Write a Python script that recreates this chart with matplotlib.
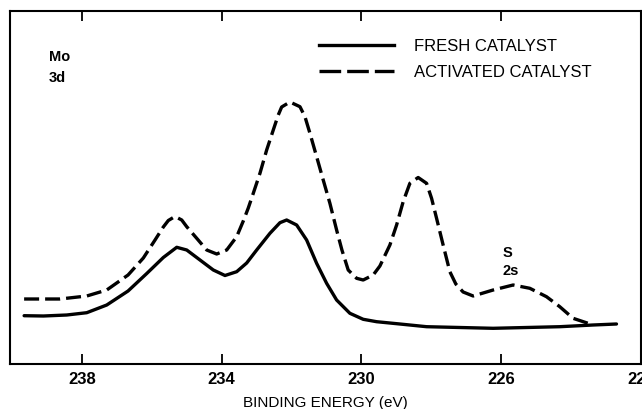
import matplotlib.pyplot as plt
from matplotlib.lines import Line2D

# Mo 3d XPS spectra (binding energy in eV, intensity in arb. units)
fresh_be = [239.656, 239.104, 238.435, 237.863, 237.291, 236.681, 236.146, 235.672,
            235.288, 235.002, 234.622, 234.241, 233.907, 233.572, 233.286, 233.000,
            232.620, 232.334, 232.142, 231.856, 231.570, 231.284, 230.998, 230.712,
            230.332, 229.951, 229.568, 228.902, 228.137, 226.232, 224.325, 223.372,
            222.702]
fresh_int = [48.3, 48.0, 49.0, 51.3, 59.0, 73.0, 90.5, 106.5,
             116.7, 114.0, 104.0, 94.0, 88.5, 92.3, 101.0, 114.0,
             130.7, 141.3, 144.0, 139.0, 124.0, 100.7, 80.7, 64.0,
             50.7, 44.7, 42.3, 40.0, 37.3, 35.7, 37.3, 39.0,
             40.0]

activated_be = [239.656, 238.627, 237.863, 237.291, 236.681, 236.244, 235.909, 235.672,
                235.529, 235.337, 235.145, 235.002, 234.716, 234.430, 234.144, 233.858,
                233.572, 233.383, 233.240, 233.097, 232.906, 232.714, 232.525, 232.382,
                232.285, 232.048, 231.761, 231.618, 231.475, 231.284, 231.095, 230.904,
                230.712, 230.560, 230.380, 230.140, 229.951, 229.665, 229.473, 229.187,
                228.995, 228.807, 228.615, 228.378, 228.137, 227.994, 227.851, 227.663,
                227.471, 227.300, 227.091, 226.804, 226.232, 225.660, 225.182, 224.705,
                224.325, 223.944, 223.515]
activated_int = [65.0, 65.0, 68.0, 74.0, 89.0, 106.0, 124.0, 137.0,
                 143.5, 147.5, 144.0, 137.3, 125.7, 114.0, 110.0, 114.0,
                 127.3, 143.0, 156.0, 170.7, 190.7, 214.0, 234.0, 249.0,
                 257.0, 262.0, 257.3, 247.3, 230.7, 207.3, 184.0, 160.7,
                 134.0, 114.0, 94.0, 85.7, 84.0, 89.0, 98.0, 119.0,
                 139.0, 162.3, 180.7, 186.5, 180.7, 165.7, 145.7, 119.0,
                 92.3, 80.0, 72.0, 68.0, 74.0, 79.0, 75.7, 67.3,
                 57.3, 45.7, 40.7]

series_labels = ['FRESH CATALYST', 'ACTIVATED CATALYST']
xticks = [238, 234, 230, 226, 222]
xtick_labels = ['238', '234', '230', '226', '222']

font = 'Liberation Sans'

fig = plt.figure(figsize=(6.42, 4.09), dpi=100)
ax = fig.add_axes([10 / 642, 45 / 409, 631 / 642, 353 / 409])

ax.plot(fresh_be, fresh_int, color='black', linewidth=2.4,
        solid_capstyle='round', solid_joinstyle='round')
ax.plot(activated_be, activated_int, color='black', linewidth=2.4,
        dashes=(4.5, 1.8), dash_joinstyle='round')

ax.set_xlim(240.06, 222.0)
ax.set_ylim(0, 353)

ax.set_xticks(xticks)
ax.set_xticklabels(xtick_labels, fontfamily=font, fontweight='bold', fontsize=12)
ax.set_yticks([])
ax.tick_params(axis='x', direction='in', length=7, width=1.3, top=True, pad=6)
for s in ax.spines.values():
    s.set_linewidth(1.5)

ax.set_xlabel('BINDING ENERGY (eV)', fontfamily=font, fontsize=11, labelpad=6)

# peak labels
ax.text(238.94, 307, 'Mo', fontfamily=font, fontweight='bold', fontsize=10.5,
        ha='left', va='center')
ax.text(238.94, 285.7, '3d', fontfamily=font, fontweight='bold', fontsize=10.5,
        ha='left', va='center')
ax.text(225.95, 111, 'S', fontfamily=font, fontweight='bold', fontsize=10.5,
        ha='left', va='center')
ax.text(225.97, 93, '2s', fontfamily=font, fontweight='bold', fontsize=10.5,
        ha='left', va='center')

handles = [Line2D([], [], color='black', linewidth=2.4),
           Line2D([], [], color='black', linewidth=2.4, dashes=(6.5, 1.8))]
ax.legend(handles, series_labels, loc='upper left', bbox_to_anchor=(0.4897, 0.921),
          frameon=False, borderpad=0, borderaxespad=0, handlelength=4.5,
          handletextpad=1.2, labelspacing=0.66,
          prop={'family': font, 'size': 12})

plt.savefig('out.png', dpi=100)
